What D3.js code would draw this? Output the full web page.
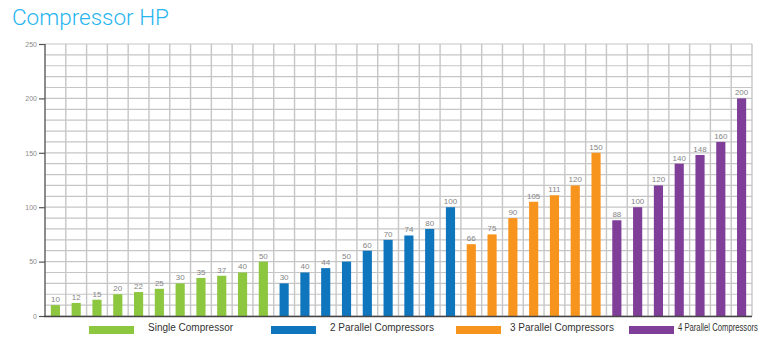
<!DOCTYPE html>
<html><head><meta charset="utf-8">
<script src="https://cdn.jsdelivr.net/npm/d3@7"></script>
<style>body{margin:0;background:#fff}svg{display:block}</style>
</head><body>
<svg id="c" width="779" height="351"></svg>
<script>
const seriesNames = ["Single Compressor","2 Parallel Compressors","3 Parallel Compressors","4 Parallel Compressors"];
const seriesColors = ["#8dc63f","#0f75bc","#f7941d","#7f3f98"];
const single = [10,12,15,20,22,25,30,35,37,40,50];
const parallel2 = [30,40,44,50,60,70,74,80,100];
const parallel3 = [66,75,90,105,111,120,150];
const parallel4 = [88,100,120,140,148,160,200];
const yTicks = [0,50,100,150,200,250];

const groups = [single, parallel2, parallel3, parallel4];
const data = [];
groups.forEach((g,si)=>g.forEach(v=>data.push({id:data.length, s:si, v:v})));

const svg = d3.select("#c");
const L=45, R=752, T=44, B=316;
const x = d3.scaleBand().domain(data.map(d=>d.id)).range([L,R]).paddingInner(0).paddingOuter(0);
const y = d3.scaleLinear().domain([0,250]).range([B,T]);

svg.append("text").attr("x",12).attr("y",25).attr("fill","#27b5ef")
  .style("font-family","Roboto, Lato, sans-serif").style("font-weight","300").style("font-size","22.5px")
  .text("Compressor HP");

const grid = svg.append("g");
d3.range(0,251,10).forEach(v=>{
  grid.append("line").attr("x1",L).attr("x2",R).attr("y1",y(v)).attr("y2",y(v))
    .attr("stroke","#c6c6c6").attr("stroke-width",1.2);
});
data.forEach(d=>{
  grid.append("line").attr("x1",x(d.id)+x.bandwidth()).attr("x2",x(d.id)+x.bandwidth())
    .attr("y1",T).attr("y2",B).attr("stroke","#c6c6c6").attr("stroke-width",1.4);
});

const bw = x.bandwidth()*0.44;
svg.append("g").selectAll("rect").data(data).join("rect")
  .attr("x",d=>x(d.id)+(x.bandwidth()-bw)/2).attr("width",bw)
  .attr("y",d=>y(d.v)).attr("height",d=>B-y(d.v))
  .attr("fill",d=>seriesColors[d.s]);

svg.append("g").selectAll("text").data(data).join("text")
  .attr("x",d=>x(d.id)+x.bandwidth()/2).attr("y",d=>y(d.v)-3)
  .attr("text-anchor","middle").attr("fill","#858585")
  .style("font-family","Liberation Sans, Arial, sans-serif").style("font-size","8px")
  .text(d=>d.v);

const yAxis = d3.axisLeft(y).tickValues(yTicks).tickSize(6).tickPadding(2);
const ga = svg.append("g").attr("transform",`translate(${L},0)`).call(yAxis);
ga.select(".domain").attr("stroke","#666").attr("stroke-width",1.5).attr("d",`M0,${T}V${B}`);
ga.selectAll(".tick line").attr("stroke","#555").attr("stroke-width",1.2);
ga.selectAll(".tick text").attr("fill","#8a8a8a").style("font-family","Liberation Sans, Arial, sans-serif").style("font-size","7px");

svg.append("line").attr("x1",L-1).attr("x2",R).attr("y1",B+0.5).attr("y2",B+0.5).attr("stroke","#444").attr("stroke-width",1.5);

const legendX = [89,271,456,629];
const legendTX = [148,330,510,678];
seriesNames.forEach((n,i)=>{
  svg.append("rect").attr("x",legendX[i]).attr("y",326).attr("width",45).attr("height",8).attr("fill",seriesColors[i]);
  svg.append("text").attr("transform",`translate(${legendTX[i]},331) scale(${i===3?0.77:1},1)`).attr("fill","#333")
    .style("font-family","Liberation Sans, Arial, sans-serif").style("font-size","10px").text(n);
});
</script>
</body></html>
